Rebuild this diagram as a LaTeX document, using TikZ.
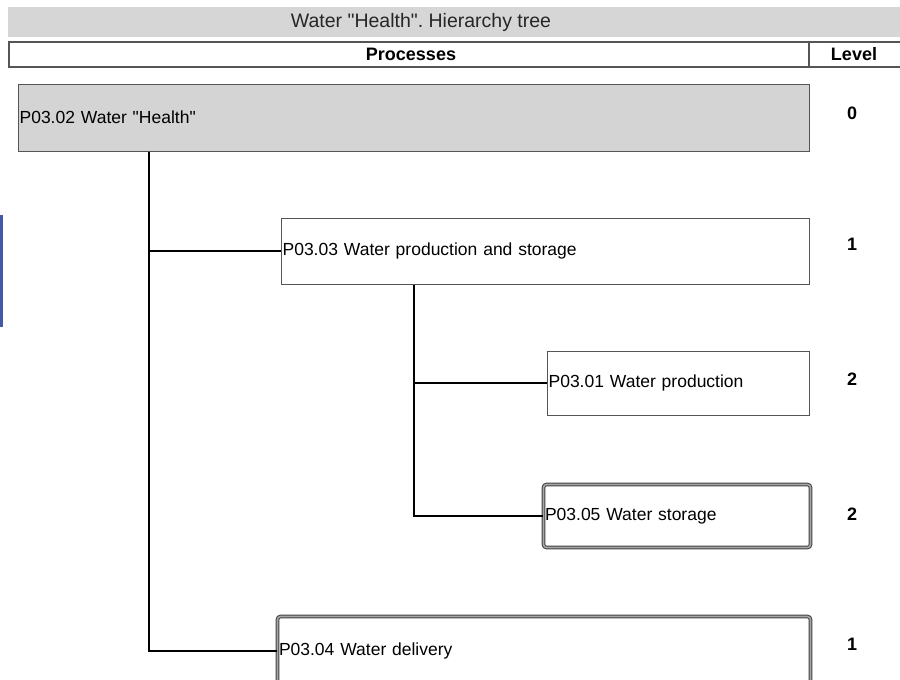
\documentclass[tikz,border=0pt]{standalone}
\usepackage{fontspec}
\setmainfont{Liberation Sans}
\frenchspacing

\definecolor{headgray}{HTML}{D6D6D6}
\definecolor{rootgray}{HTML}{D4D4D4}
\definecolor{boxline}{HTML}{555555}
\definecolor{sidebar}{HTML}{4458A8}

\begin{document}
\begin{tikzpicture}[x=1pt,y=-1pt,
        proc/.style={draw=boxline,line width=1.2pt,anchor=north west,align=left,
            inner xsep=1.5pt,inner ysep=0pt,font=\fontsize{17.5}{20}\selectfont},
        procdbl/.style={proc,draw=black!75,line width=1pt,double=black!35,
            double distance=1.6pt,rounded corners=3pt},
        link/.style={line width=2pt},
        lvl/.style={font=\bfseries\fontsize{18}{20}\selectfont},
        colhead/.style={font=\bfseries\fontsize{18}{20}\selectfont}]

    \useasboundingbox (0,0) rectangle (900,680);

    \fill[headgray] (8,7) rectangle (900,37);
    \node[font=\fontsize{19.5}{22}\selectfont,text=black!85] (title) at (421,22)
        {Water \textquotedbl Health\textquotedbl. Hierarchy tree};

    \draw[boxline,line width=1.2pt] (9,42) rectangle (905,67);
    \draw[boxline,line width=1.2pt] (809,42) -- (809,67);
    \node[colhead] (hproc) at (411,54) {Processes};
    \node[colhead] (hlvl) at (854,54) {Level};

    \fill[sidebar] (0,215) rectangle (3,327);

    \node[proc,fill=rootgray,text width=788pt,minimum height=67pt] (root)
        at (17.5,83.5) {P03.02 Water \textquotedbl Health\textquotedbl};
    \node[proc,text width=525pt,minimum height=66pt] (n303)
        at (280.5,217.5) {P03.03 Water production and storage};
    \node[proc,text width=259pt,minimum height=64pt] (n301)
        at (546.5,350.5) {P03.01 Water production};
    \node[procdbl,text width=264pt,minimum height=63pt] (n305)
        at (543,484) {P03.05 Water storage};
    \node[procdbl,text width=530pt,minimum height=68pt] (n304)
        at (277,616) {P03.04 Water delivery};

    \coordinate (trunk) at ([xshift=131pt]root.south west);
    \coordinate (branch) at ([xshift=133pt]n303.south west);

    \draw[link] (trunk) |- (n303.west);
    \draw[link] (trunk) |- (n304.west);
    \draw[link] (branch) |- (n301.west);
    \draw[link] (branch) |- (n305.west);

    \node[lvl] (l0) at (852,113) {0};
    \node[lvl] (l1) at (852,244) {1};
    \node[lvl] (l2) at (852,379) {2};
    \node[lvl] (l3) at (852,514) {2};
    \node[lvl] (l4) at (852,644) {1};
\end{tikzpicture}
\end{document}
